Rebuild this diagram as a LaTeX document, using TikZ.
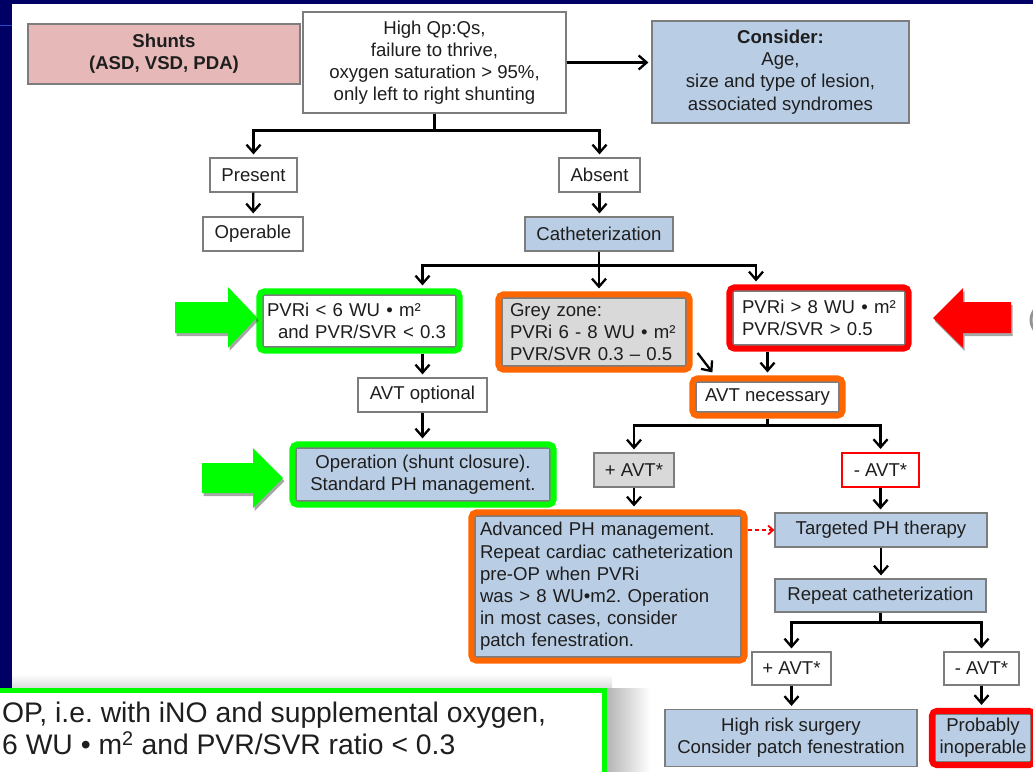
\documentclass[tikz,border=0pt]{standalone}
\usepackage{fontspec}
\setmainfont{Liberation Sans}
\usetikzlibrary{arrows.meta,fit,shadows,calc}
\definecolor{navy}{RGB}{0,0,100}
\definecolor{navyline}{RGB}{40,70,200}
\definecolor{boxblue}{RGB}{185,205,229}
\definecolor{boxpink}{RGB}{230,185,184}
\definecolor{boxgrey}{RGB}{217,217,217}
\definecolor{edgegrey}{RGB}{125,125,125}
\definecolor{txt}{RGB}{30,30,30}
\definecolor{hlgreen}{RGB}{0,255,0}
\definecolor{hlorange}{RGB}{255,102,0}
\definecolor{hlred}{RGB}{255,0,0}
\newcommand\mfs{\fontsize{18.6}{22.2}\selectfont\frenchspacing\hyphenpenalty=10000\exhyphenpenalty=10000}
\newcommand\nfs{\fontsize{28.3}{32}\selectfont\frenchspacing}
\tikzset{
  box/.style={draw=edgegrey, line width=1.2pt, fill=white, inner sep=0pt, align=center,
    text=txt, font=\mfs},
  bluebox/.style={box, fill=boxblue},
  greybox/.style={box, fill=boxgrey},
  lbox/.style={align=left, inner xsep=#1, inner ysep=0pt},
  hl/.style={draw=#1, line width=6pt, rounded corners=5pt, inner sep=3pt},
  arr/.style={draw=black, line width=2.3pt, shorten >=3pt,
    -{Straight Barb[length=8pt,width=14pt,line width=2.3pt]}},
  dasharr/.style={draw=hlred, line width=1.8pt, dash pattern=on 4pt off 3pt,
    -{Straight Barb[length=5pt,width=9pt,line width=1.8pt]}},
  bigarrow/.style={line width=0pt, drop shadow={shadow xshift=1.5pt, shadow yshift=-3pt, opacity=0.35, fill=black}},
}
\begin{document}
\begin{tikzpicture}[x=1pt,y=-1pt]
\useasboundingbox (0,0) rectangle (1033,771);
\clip (0,0) rectangle (1033,771);
% slide background
\fill[white] (0,0) rectangle (1033,771);
\fill[navy] (0,0) rectangle (1033,4);
\fill[navy] (0,0) rectangle (12,771);
\draw[navyline, line width=1pt] (0,25) -- (12,25);

% top row
\node[box, fill=boxpink, font=\mfs\bfseries, minimum width=272pt, minimum height=60pt] (shunts) at (164,54) {Shunts\\(ASD, VSD, PDA)};
\node[box, minimum width=263pt, minimum height=101pt] (top) at (434.5,62.5) {High Qp:Qs,\\failure to thrive,\\oxygen saturation > 95\%,\\only left to right shunting};
\node[bluebox, minimum width=257pt, minimum height=102pt] (consider) at (780.5,72) {\textbf{Consider:}\\Age,\\size and type of lesion,\\associated syndromes};

\node[box, minimum width=87pt, minimum height=34pt] (present) at (253.5,175) {Present};
\node[box, minimum width=81pt, minimum height=34pt] (absent) at (599.5,175) {Absent};
\node[box, minimum width=100pt, minimum height=34pt] (operable) at (253,234) {Operable};
\node[bluebox, minimum width=148pt, minimum height=34pt] (cath) at (599,234) {Catheterization};

% three classes
\node[box, lbox=4pt, text width=185pt, minimum height=52pt] (low) at (359.5,321) {PVRi < 6 WU • m²\\\hspace*{11pt}and PVR/SVR < 0.3};
\node[greybox, lbox=8pt, text width=168pt, minimum height=68pt] (grey) at (594,332) {Grey zone:\\PVRi 6 - 8 WU • m²\\PVR/SVR 0.3 – 0.5};
\node[box, lbox=9pt, text width=154pt, minimum height=54pt] (red) at (819,318) {PVRi > 8 WU • m²\\PVR/SVR > 0.5};
\node[hl=hlgreen, fit=(low)] (lowF) {};
\node[hl=hlorange, fit=(grey)] (greyF) {};
\node[hl=hlred, fit=(red)] (redF) {};

\node[box, minimum width=129pt, minimum height=34pt] (avtopt) at (422.5,395) {AVT optional};
\node[box, minimum width=143pt, minimum height=30pt] (avtnec) at (767.5,397) {AVT necessary};
\node[hl=hlorange, fit=(avtnec)] (avtnecF) {};

\node[bluebox, minimum width=254pt, minimum height=53pt] (op) at (423,474.5) {Operation (shunt closure).\\Standard PH management.};
\node[hl=hlgreen, fit=(op)] (opF) {};

\node[greybox, minimum width=80pt, minimum height=34pt] (pavt1) at (634,470) {+ AVT*};
\node[box, draw=hlred, line width=2pt, minimum width=77pt, minimum height=34pt] (mavt1) at (880.5,470) {- AVT*};

\node[bluebox, lbox=5pt, text width=256pt, minimum height=141pt] (adv) at (608,586.5) {Advanced PH management.\\Repeat cardiac catheterization\\pre-OP when PVRi\\was > 8 WU•m2. Operation\\in most cases, consider\\patch fenestration.};
\node[hl=hlorange, fit=(adv)] (advF) {};

\node[bluebox, minimum width=212pt, minimum height=34pt] (targeted) at (881,530) {Targeted PH therapy};
\node[bluebox, minimum width=211pt, minimum height=33pt] (repeat) at (880.5,595.5) {Repeat catheterization};
\node[box, minimum width=79pt, minimum height=33pt] (pavt2) at (791.5,668.5) {+ AVT*};
\node[box, minimum width=75pt, minimum height=33pt] (mavt2) at (981.5,668.5) {- AVT*};
\node[bluebox, minimum width=252pt, minimum height=57pt] (highrisk) at (791,738) {High risk surgery\\Consider patch fenestration};
\node[bluebox, minimum width=95pt, minimum height=47pt] (inop) at (983,738) {Probably\\inoperable};
\node[hl=hlred, fit=(inop)] (inopF) {};

% connectors
\draw[arr] (top.east) -- (top.east -| consider.west);
\draw[arr] (top.south) -- ++(0,17) -| (present.north);
\draw[arr] (top.south) -- ++(0,17) -| (absent.north);
\draw[arr] (present) -- (operable);
\draw[arr] (absent) -- (absent.south |- cath.north);
\draw[arr] (cath.south) -- ++(0,14) -| (lowF.north -| avtopt.north);
\draw[arr] (cath.south) -- (cath.south |- greyF.north);
\draw[arr] (cath.south) -- ++(0,14) -| ([xshift=-63pt]redF.north);
\draw[arr] (lowF.south -| avtopt.north) -- (avtopt.north);
\draw[arr] (avtopt.south) -- (avtopt.south |- opF.north);
\draw[arr, shorten >=0pt] ([xshift=5pt,yshift=-21pt]greyF.east) -- ([xshift=23pt,yshift=3pt]avtnecF.north west);
\draw[arr] (redF.south -| avtnecF.north) -- (avtnecF.north);
\draw[arr] (avtnecF.south) -- ++(0,7) -| (pavt1.north);
\draw[arr] (avtnecF.south) -- ++(0,7) -| (mavt1.north);
\draw[arr] (pavt1.south) -- (pavt1.south |- advF.north);
\draw[arr] (mavt1.south) -- (mavt1.south |- targeted.north);
\draw[dasharr] (advF.east |- targeted.west) -- (targeted.west);
\draw[arr] (targeted.south) -- (targeted.south |- repeat.north);
\draw[arr] (repeat.south) -- ++(0,10) -| (pavt2.north);
\draw[arr] (repeat.south) -- ++(0,10) -| (mavt2.north);
\draw[arr] (pavt2.south) -- (pavt2.south |- highrisk.north);
\draw[arr] (mavt2.south) -- (mavt2.south |- inopF.north);

% highlight arrows
\fill[hlgreen, bigarrow] (175,302) -- (228,302) -- (228,287) -- (257,317.5) -- (228,348) -- (228,333) -- (175,333) -- cycle;
\fill[hlgreen, bigarrow] (202,463) -- (253,463) -- (253,448) -- (283,478) -- (253,508) -- (253,493) -- (202,493) -- cycle;
\fill[hlred, bigarrow] (1011,302) -- (963,302) -- (963,288) -- (933,318) -- (963,348) -- (963,333) -- (1011,333) -- cycle;
\draw[gray!85, line width=3pt] (1047,320) circle (16);

% overlay note (bottom left)
\shade[top color=white, bottom color=black!14] (12,674) rectangle (612,688);
\shade[left color=black!30, right color=white] (606,688) rectangle (650,771);
\filldraw[draw=hlgreen, fill=white, line width=5pt] (-10,690.5) rectangle (604.5,790);
\node[anchor=west, align=left, inner sep=0pt, text=txt, font=\nfs] (note) at (2,728.5) {OP, i.e. with iNO and supplemental oxygen,\\6 WU • m\textsuperscript{2} and PVR/SVR ratio < 0.3};
\end{tikzpicture}
\end{document}
